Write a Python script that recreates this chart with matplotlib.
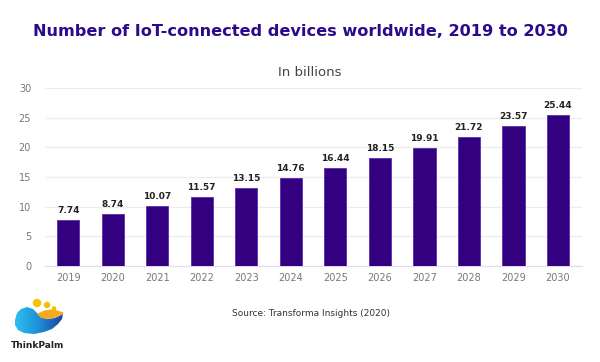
import matplotlib.pyplot as plt
import numpy as np
from matplotlib.patches import Circle, Polygon
from matplotlib.colors import LinearSegmentedColormap

years = ['2019', '2020', '2021', '2022', '2023', '2024', '2025', '2026', '2027', '2028', '2029', '2030']
devices = [7.74, 8.74, 10.07, 11.57, 13.15, 14.76, 16.44, 18.15, 19.91, 21.72, 23.57, 25.44]
yticks = [0, 5, 10, 15, 20, 25, 30]

bar_color = '#33007f'
title_color = '#2c0a8c'

fig = plt.figure(figsize=(6, 3.62), dpi=100)
ax = fig.add_axes([0.075, 0.265, 0.895, 0.492])

x = np.arange(len(years))
ax.bar(x, devices, width=0.5, color=bar_color, edgecolor='#5a2bb0', linewidth=0.6, zorder=3)
for xi, v in zip(x, devices):
    ax.text(xi, v + 0.9, '{:.2f}'.format(v), ha='center', va='bottom',
            fontsize=6.5, fontweight='bold', color='#222222')

ax.set_xlim(-0.52, 11.54)
ax.set_ylim(0, 30)
ax.set_yticks(yticks)
ax.set_xticks(x)
ax.set_xticklabels(years)
ax.tick_params(axis='both', length=0, labelsize=7, labelcolor='#777777')
ax.tick_params(axis='y', pad=10)
ax.tick_params(axis='x', pad=5)
ax.grid(axis='y', color='#ececec', linewidth=0.9, zorder=0)
for s in ['top', 'right', 'left']:
    ax.spines[s].set_visible(False)
ax.spines['bottom'].set_color('#e3d8f0')

fig.text(0.5, 0.912, 'Number of IoT-connected devices worldwide, 2019 to 2030',
         ha='center', va='center', fontsize=11.6, fontweight='bold', color=title_color)
fig.text(0.517, 0.8, 'In billions', ha='center', va='center', fontsize=9.5, color='#444444')
fig.text(0.518, 0.133, 'Source: Transforma Insights (2020)', ha='center', va='center',
         fontsize=6.5, color='#333333')

# logo, drawn in pixel coordinates
lax = fig.add_axes([0, 0, 1, 1])
lax.set_xlim(0, 600)
lax.set_ylim(362, 0)
lax.axis('off')
blob = [(15, 320), (17, 313), (21, 309), (27, 307), (33, 309), (37, 313), (41, 317),
        (47, 319), (55, 318), (63, 314), (62, 319), (58, 324), (52, 329), (44, 332),
        (34, 334), (24, 333), (18, 330), (15, 325)]
blob_patch = Polygon(blob, closed=True, facecolor='none', edgecolor='none')
lax.add_patch(blob_patch)
grad = np.linspace(0, 1, 100).reshape(1, -1)
blue_cmap = LinearSegmentedColormap.from_list('logo', ['#2ec0f2', '#1d8fd8', '#1c3f9e'])
img = lax.imshow(grad, cmap=blue_cmap, extent=(14, 64, 335, 306), aspect='auto', zorder=2)
img.set_clip_path(blob_patch)
orange = [(38, 314), (45, 311), (53, 310), (63, 313), (55, 317), (47, 318.5), (41, 317)]
lax.add_patch(Polygon(orange, closed=True, color='#f6a91e', zorder=3))
lax.add_patch(Circle((37, 303), 3.5, color='#f7c000', zorder=3))
lax.add_patch(Circle((47, 305), 2.5, color='#f7c000', zorder=3))
lax.add_patch(Circle((54, 308.5), 1.6, color='#f7c000', zorder=3))
lax.text(38, 346, 'ThinkPalm', ha='center', va='center', fontsize=6.5, fontweight='bold', color='#222222')

fig.savefig('out.png', dpi=100)
